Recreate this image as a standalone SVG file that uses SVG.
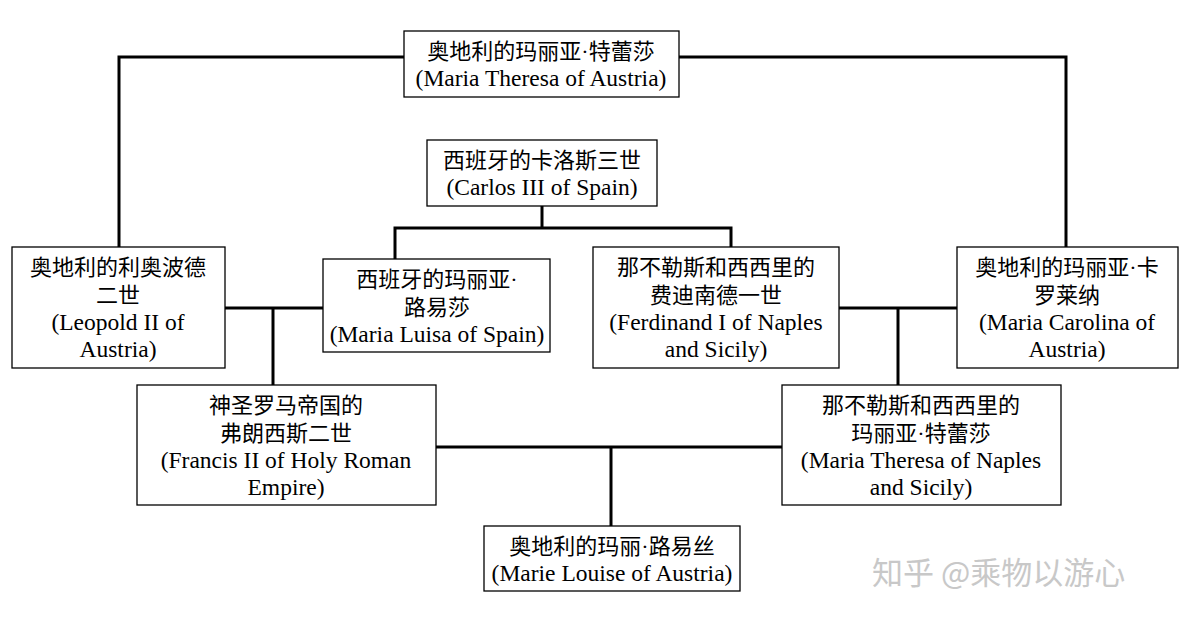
<svg xmlns="http://www.w3.org/2000/svg" width="1189" height="619" viewBox="0 0 1189 619">
<style>
.b{fill:#fff;stroke:#000;stroke-width:1.3}
.l{fill:none;stroke:#000;stroke-width:3}
text{text-anchor:middle;fill:#000}
.zh{font-family:"Noto Sans CJK SC",sans-serif;font-size:22px}
.d{font-family:"Liberation Serif",serif}
.en{font-family:"Liberation Serif","Noto Sans CJK SC",serif;font-size:23.5px}
.wm{font-family:"Noto Sans CJK SC",sans-serif;font-size:31px;fill:#c8c8c8;text-anchor:start}
</style>
<rect width="1189" height="619" fill="#fff"/>
<g id="connectors">
<polyline class="l" points="404,57 119,57 119,247"/>
<polyline class="l" points="679,57 1066,57 1066,247"/>
<polyline class="l" points="542,206 542,228"/>
<polyline class="l" points="395,259 395,228 731,228 731,247"/>
<line class="l" x1="225" y1="308" x2="323" y2="308"/>
<line class="l" x1="273" y1="308" x2="273" y2="385"/>
<line class="l" x1="839" y1="308" x2="957" y2="308"/>
<line class="l" x1="898" y1="308" x2="898" y2="385"/>
<line class="l" x1="436" y1="447" x2="782" y2="447"/>
<line class="l" x1="611" y1="447" x2="611" y2="526"/>
</g>
<g id="n1"><rect class="b" x="404" y="31" width="275" height="66"/><text class="zh" x="541" y="59">奥地利的玛丽亚<tspan class="d">·</tspan>特蕾莎</text><text class="en" x="541" y="86">(Maria Theresa of Austria)</text></g>
<g id="n2"><rect class="b" x="427" y="140" width="230" height="66"/><text class="zh" x="542" y="168">西班牙的卡洛斯三世</text><text class="en" x="542" y="195">(Carlos III of Spain)</text></g>
<g id="n3"><rect class="b" x="12" y="247" width="213" height="121"/><text class="zh" x="118" y="275">奥地利的利奥波德</text><text class="zh" x="118" y="303">二世</text><text class="en" x="118" y="330">(Leopold II of</text><text class="en" x="118" y="357">Austria)</text></g>
<g id="n4"><rect class="b" x="323" y="259" width="227" height="93"/><text class="zh" x="437" y="287">西班牙的玛丽亚<tspan class="d">·</tspan></text><text class="zh" x="437" y="315">路易莎</text><text class="en" x="437" y="342">(Maria Luisa of Spain)</text></g>
<g id="n5"><rect class="b" x="593" y="247" width="246" height="121"/><text class="zh" x="716" y="275">那不勒斯和西西里的</text><text class="zh" x="716" y="303">费迪南德一世</text><text class="en" x="716" y="330">(Ferdinand I of Naples</text><text class="en" x="716" y="357">and Sicily)</text></g>
<g id="n6"><rect class="b" x="957" y="247" width="221" height="121"/><text class="zh" x="1067" y="275">奥地利的玛丽亚<tspan class="d">·</tspan>卡</text><text class="zh" x="1067" y="303">罗莱纳</text><text class="en" x="1067" y="330">(Maria Carolina of</text><text class="en" x="1067" y="357">Austria)</text></g>
<g id="n7"><rect class="b" x="137" y="385" width="299" height="120"/><text class="zh" x="286" y="413">神圣罗马帝国的</text><text class="zh" x="286" y="441">弗朗西斯二世</text><text class="en" x="286" y="468">(Francis II of Holy Roman</text><text class="en" x="286" y="495">Empire)</text></g>
<g id="n8"><rect class="b" x="782" y="385" width="279" height="120"/><text class="zh" x="921" y="413">那不勒斯和西西里的</text><text class="zh" x="921" y="441">玛丽亚<tspan class="d">·</tspan>特蕾莎</text><text class="en" x="921" y="468">(Maria Theresa of Naples</text><text class="en" x="921" y="495">and Sicily)</text></g>
<g id="n9"><rect class="b" x="484" y="526" width="256" height="65"/><text class="zh" x="612" y="554">奥地利的玛丽<tspan class="d">·</tspan>路易丝</text><text class="en" x="612" y="581">(Marie Louise of Austria)</text></g>
<text class="wm" x="872" y="584">知乎 @乘物以游心</text>
</svg>
